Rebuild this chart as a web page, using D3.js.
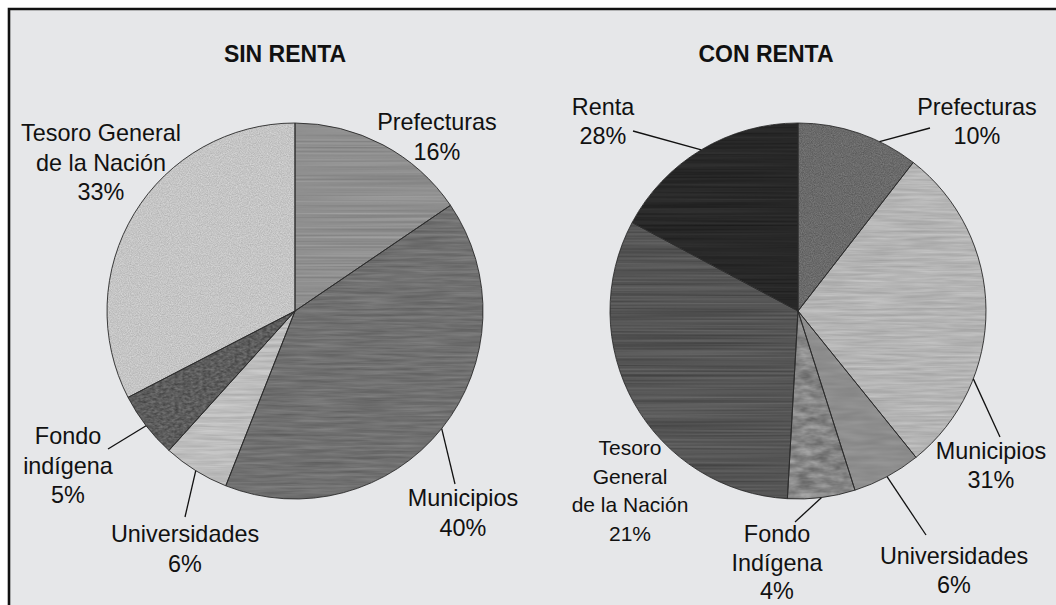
<!DOCTYPE html>
<html lang="en">

<head>
    <meta charset="UTF-8">
    <title>Sin renta / Con renta</title>
</head>

<style>
    body,
    html {
        margin: 0;
        padding: 0;
        background: #ffffff;
        font-family: "Liberation Sans", Arial, sans-serif;
    }
</style>

<body>
    <svg id="svg" width="1056" height="605"></svg>

    <script src="https://d3js.org/d3.v7.min.js"></script>
    <script>
        // Sin renta (slice sizes, label texts as printed)
        const leftCategories = ["Prefecturas", "Municipios", "Universidades", "Fondo indígena", "Tesoro General de la Nación"];
        const leftValues = [15.5, 40.5, 5.7, 5.7, 32.6];
        const leftLabels = [["Prefecturas", "16%"], ["Municipios", "40%"], ["Universidades", "6%"],
            ["Fondo", "indígena", "5%"], ["Tesoro General", "de la Nación", "33%"]];

        // Con renta
        const rightCategories = ["Prefecturas", "Municipios", "Universidades", "Fondo Indígena", "Tesoro General de la Nación", "Renta"];
        const rightValues = [10.5, 28.7, 5.9, 5.8, 31.9, 17.2];
        const rightLabels = [["Prefecturas", "10%"], ["Municipios", "31%"], ["Universidades", "6%"],
            ["Fondo", "Indígena", "4%"], ["Tesoro", "General", "de la Nación", "21%"], ["Renta", "28%"]];

        const titles = ["SIN RENTA", "CON RENTA"];

        const svg = d3.select('#svg');
        const radius = 188;

        // frame
        svg.append('rect')
            .attr('x', 9).attr('y', 9)
            .attr('width', 1060).attr('height', 610)
            .attr('fill', '#e6e7e9');
        svg.append('path')
            .attr('d', 'M9,610V9H1060')
            .attr('fill', 'none')
            .attr('stroke', '#111')
            .attr('stroke-width', 2.6);

        // texture filters: noise added on top of the flat grey of a slice
        const defs = svg.append('defs');
        function texture(id, freq, octaves, seed, amp) {
            const f = defs.append('filter')
                .attr('id', id)
                .attr('color-interpolation-filters', 'sRGB');
            f.append('feTurbulence')
                .attr('type', 'fractalNoise')
                .attr('baseFrequency', freq)
                .attr('numOctaves', octaves)
                .attr('seed', seed)
                .attr('result', 'n');
            f.append('feColorMatrix')
                .attr('in', 'n')
                .attr('type', 'matrix')
                .attr('values', '1 0 0 0 0  1 0 0 0 0  1 0 0 0 0  0 0 0 0 1')
                .attr('result', 'g');
            f.append('feComposite')
                .attr('in', 'SourceGraphic').attr('in2', 'g')
                .attr('operator', 'arithmetic')
                .attr('k1', 0).attr('k2', 1).attr('k3', amp).attr('k4', -amp / 2)
                .attr('result', 'c');
            f.append('feComposite')
                .attr('in', 'c').attr('in2', 'SourceGraphic')
                .attr('operator', 'in');
        }
        texture('t-lines', '0.004 0.5', 2, 2, 0.2);
        texture('t-dark', '0.004 0.5', 2, 3, 0.12);
        texture('t-streak', '0.02 0.35', 3, 5, 0.18);
        texture('t-grain', '0.9 0.9', 2, 7, 0.2);
        texture('t-hatch', '0.25 0.4', 2, 11, 0.28);
        texture('t-wave', '0.06 0.16', 3, 13, 0.35);
        texture('t-soft', '0.03 0.2', 2, 17, 0.1);

        const charts = [
            {
                cx: 295, cy: 311, title: titles[0], titleX: 285,
                categories: leftCategories, values: leftValues, labels: leftLabels,
                fills: ['#8f8f8f', '#707070', '#bdbdbd', '#5c5c5c', '#c5c5c5'],
                textures: ['t-lines', 't-streak', 't-streak', 't-hatch', 't-grain'],
                // label centre (first baseline) relative to pie centre, leader end, leader angle share
                layout: [
                    { dx: 142, dy: -181 },
                    { dx: 168, dy: 195, lx: 160, ly: 173, t: 0.5 },
                    { dx: -110, dy: 231, lx: -110, ly: 206, t: 0.5 },
                    { dx: -227, dy: 133, lx: -187, ly: 138, t: 0.5 },
                    { dx: -194, dy: -170 }
                ],
                size: [23.4, 23.4, 23.4, 23.4, 23.4],
                lineH: 29.5
            },
            {
                cx: 798, cy: 311, title: titles[1], titleX: 766,
                categories: rightCategories, values: rightValues, labels: rightLabels,
                fills: ['#6a6a6a', '#b4b4b4', '#8d8d8d', '#858585', '#555555', '#272727'],
                textures: ['t-grain', 't-streak', 't-soft', 't-wave', 't-lines', 't-dark'],
                layout: [
                    { dx: 179, dy: -196, lx: 132, ly: -183, t: 0.68 },
                    { dx: 193, dy: 148, lx: 202, ly: 126, t: 0.71 },
                    { dx: 156, dy: 253, lx: 128, ly: 224, t: 0.5 },
                    { dx: -21, dy: 231, lx: -3, ly: 211, t: 0.5 },
                    { dx: -168, dy: 144 },
                    { dx: -195, dy: -196, lx: -165, ly: -180, t: 0.5 }
                ],
                size: [23.4, 23.4, 23.4, 23.4, 21, 23.4],
                lineH: 28.7
            }
        ];

        const pie = d3.pie().sort(null).value(d => d);
        const arc = d3.arc().innerRadius(0).outerRadius(radius);

        charts.forEach(c => {
            const g = svg.append('g').attr('transform', `translate(${c.cx},${c.cy})`);
            const arcs = pie(c.values);

            // flat fill + texture
            g.selectAll('path.base')
                .data(arcs)
                .join('path')
                .attr('class', 'base')
                .attr('d', arc)
                .attr('fill', (d, i) => c.fills[i])
                .attr('filter', (d, i) => `url(#${c.textures[i]})`);

            // slice outlines
            g.selectAll('path.edge')
                .data(arcs)
                .join('path')
                .attr('class', 'edge')
                .attr('d', arc)
                .attr('fill', 'none')
                .attr('stroke', '#2a2a2a')
                .attr('stroke-width', 0.9)
                .attr('stroke-linejoin', 'round');

            // title
            svg.append('text')
                .attr('x', c.titleX)
                .attr('y', 62)
                .attr('text-anchor', 'middle')
                .attr('font-size', 23)
                .attr('font-weight', 'bold')
                .attr('fill', '#111')
                .text(c.title);

            // leader lines
            arcs.forEach((d, i) => {
                const L = c.layout[i];
                if (L.lx === undefined) return;
                const a = d.startAngle + L.t * (d.endAngle - d.startAngle);
                g.append('line')
                    .attr('x1', radius * Math.sin(a))
                    .attr('y1', -radius * Math.cos(a))
                    .attr('x2', L.lx)
                    .attr('y2', L.ly)
                    .attr('stroke', '#111')
                    .attr('stroke-width', 1.3);
            });

            // labels
            c.labels.forEach((lines, i) => {
                const L = c.layout[i];
                const t = g.append('text')
                    .attr('text-anchor', 'middle')
                    .attr('font-size', c.size[i])
                    .attr('fill', '#111');
                lines.forEach((s, k) => {
                    t.append('tspan')
                        .attr('x', L.dx)
                        .attr('y', L.dy + k * c.lineH)
                        .text(s);
                });
            });
        });
    </script>
</body>

</html>
